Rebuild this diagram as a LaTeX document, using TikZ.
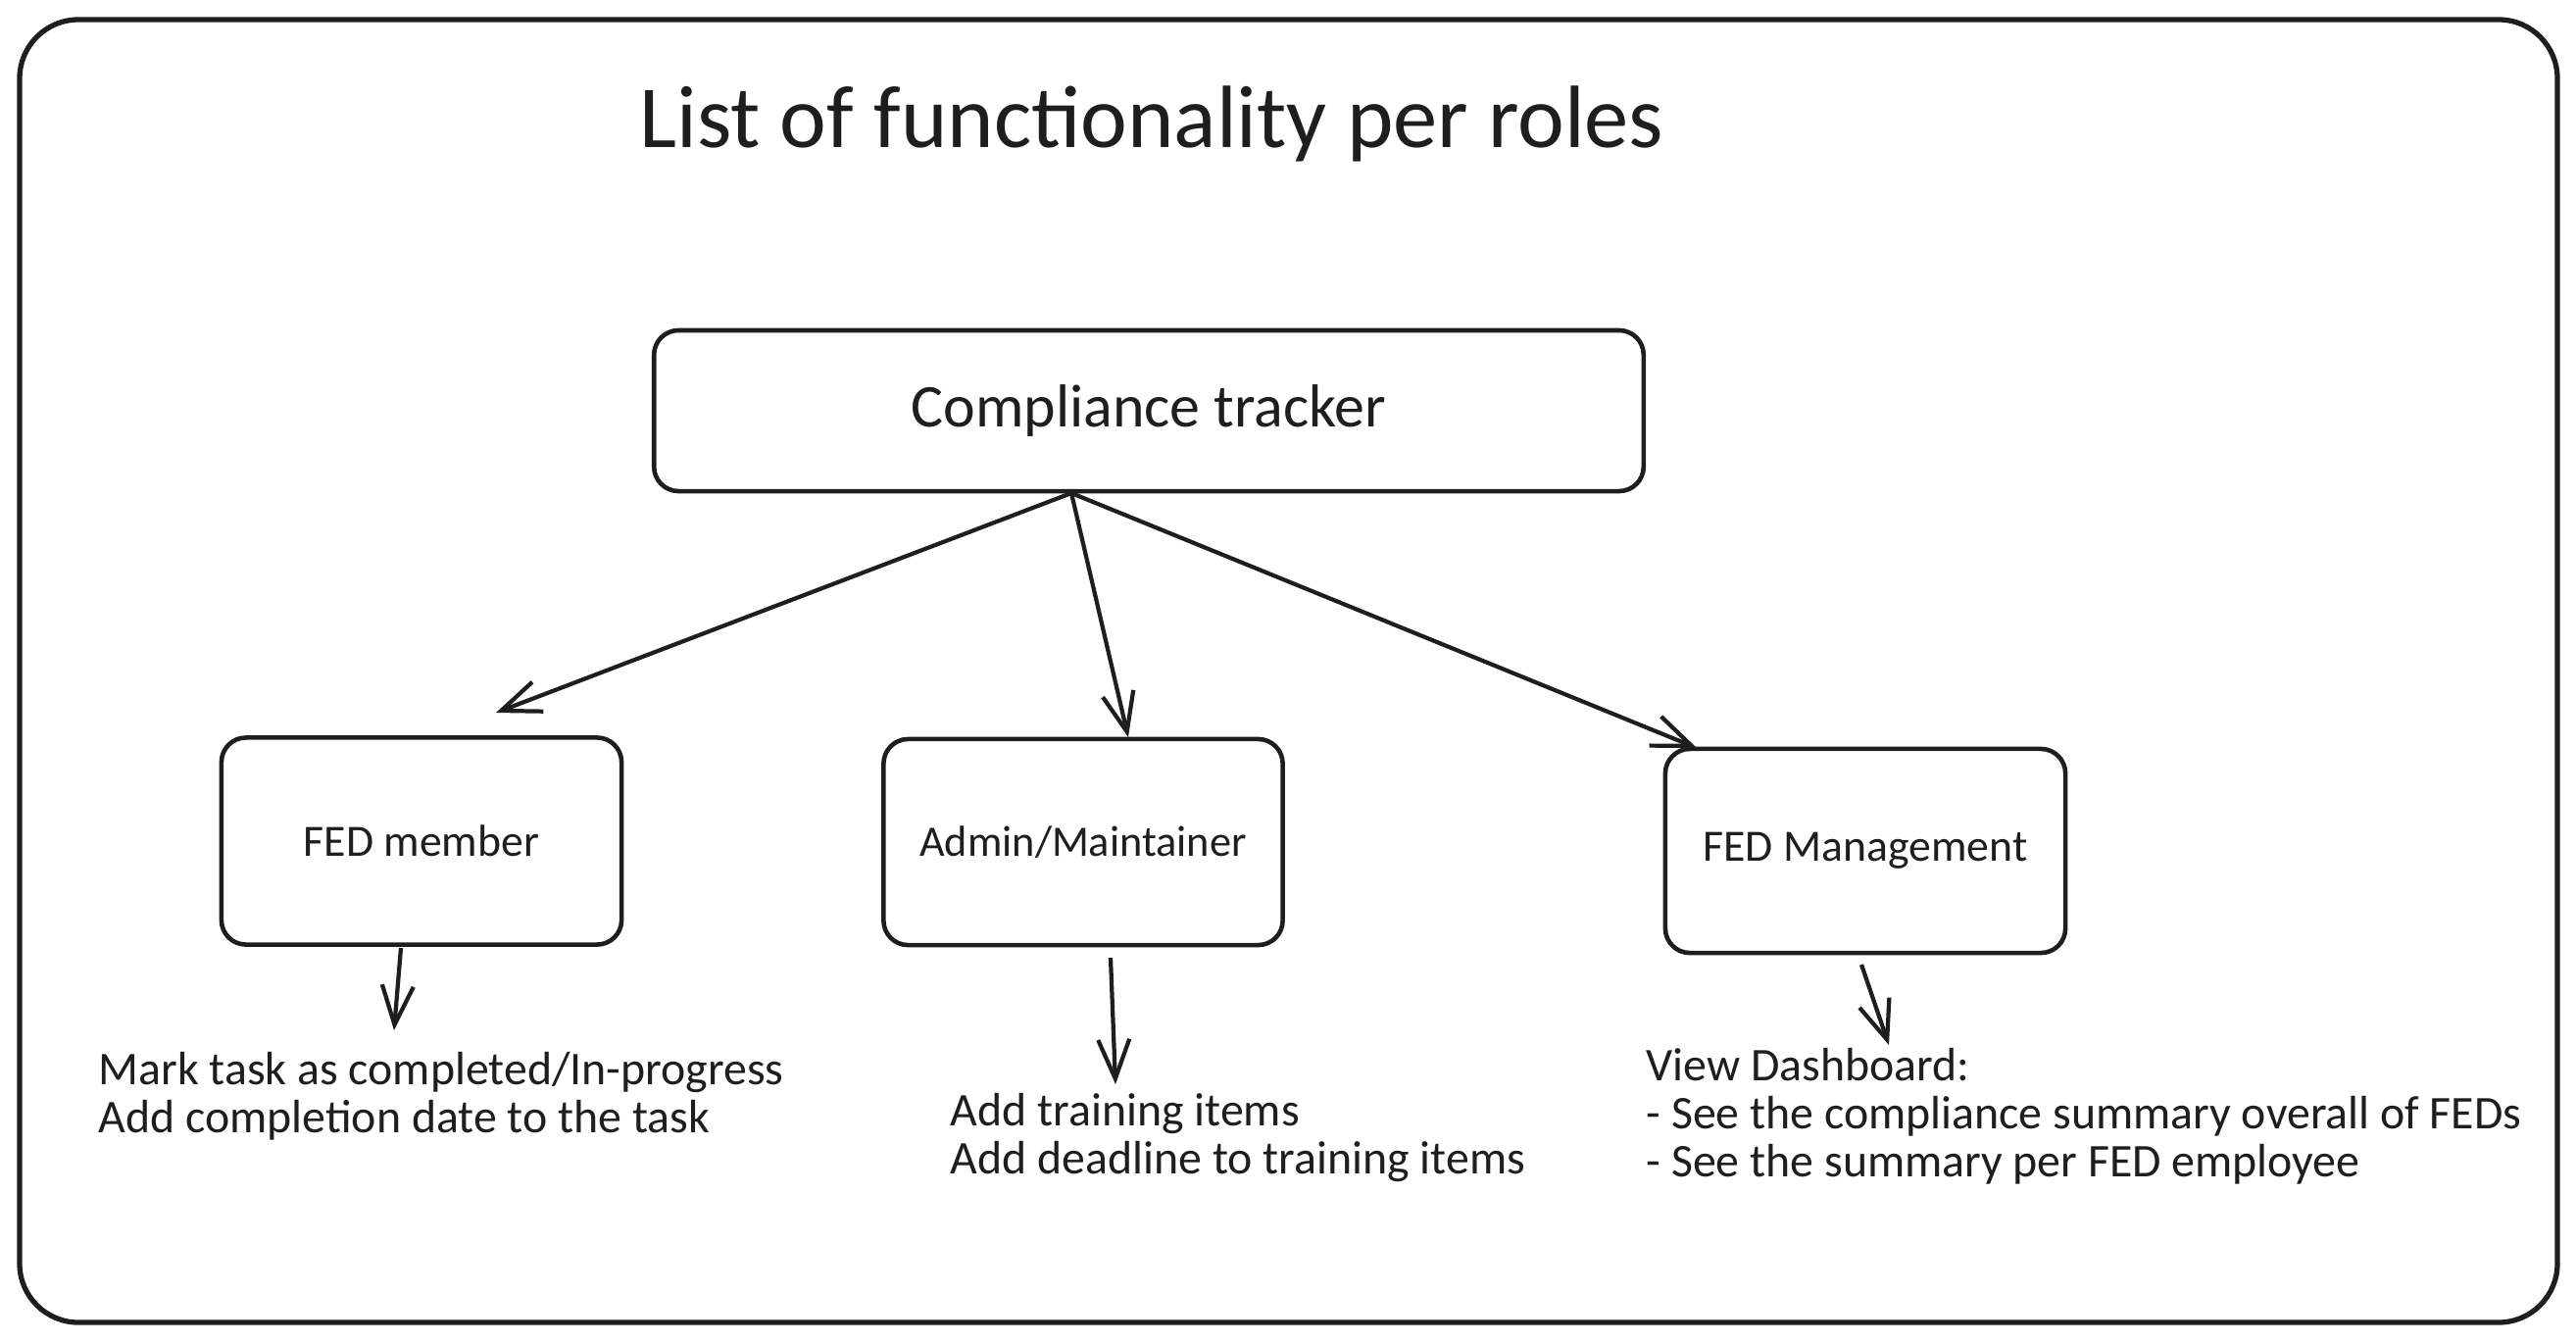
\documentclass[tikz,border=0pt]{standalone}
\usepackage{fontspec}
\setmainfont{Carlito}
\usetikzlibrary{arrows.meta}
\definecolor{ink}{HTML}{1E1E1E}
\begin{document}
\begin{tikzpicture}[x=0.01cm,y=-0.01cm,
  ink/.style={draw=ink,line width=1.3pt},
  frame/.style={draw=ink,line width=1.5pt,rounded corners=0.6cm},
  box/.style={ink,rounded corners=0.25cm,align=center,text=ink,inner sep=0pt},
  nodetxt/.style={font=\fontsize{13}{13.94}\selectfont,text=ink},
  smalltxt/.style={font=\fontsize{13.6}{13.94}\selectfont,text=ink},
  arr/.style={draw=ink,line width=1.2pt,-{Straight Barb[length=0.4cm,width=0.32cm,line width=1.2pt]}},
  lbl/.style={smalltxt,align=left,anchor=west,inner sep=0pt}]
\useasboundingbox (0,0) rectangle (2628,1369);
\draw[frame] (20,20) rectangle (2609,1349);
\node[text=ink,font=\fontsize{25.7}{28}\selectfont] (title) at (1175,126) {List of functionality per roles};
\node[box,minimum width=10.09cm,minimum height=1.64cm,font=\fontsize{17.6}{20}\selectfont] (ct) at (1172,419) {Compliance tracker};
\node[box,nodetxt,minimum width=4.08cm,minimum height=2.11cm] (fm) at (430,858) {FED member};
\node[box,nodetxt,minimum width=4.07cm,minimum height=2.10cm,font=\fontsize{12.6}{13.94}\selectfont] (am) at (1105,859) {Admin/Maintainer};
\node[box,nodetxt,minimum width=4.08cm,minimum height=2.08cm] (mg) at (1903,868) {FED Management};
\node[lbl] (t1) at (100,1118) {Mark task as completed/In-progress\\Add completion date to the task};
\node[lbl] (t2) at (969,1160) {Add training items\\Add deadline to training items};
\node[lbl] (t3) at (1679,1139) {View Dashboard:\\- See the compliance summary overall of FEDs\\- See the summary per FED employee};
\coordinate (o) at (1093,503);
\coordinate (fmin) at (506,727);
\coordinate (amin) at (1151,752);
\coordinate (mgin) at (1731,763);
\draw[arr] (o) -- (fmin);
\draw[arr] (o) -- (amin);
\draw[arr] (o) -- (mgin);
\coordinate (fmo) at (409,967);
\coordinate (t1in) at (402,1051);
\coordinate (amo) at (1133,977);
\coordinate (t2in) at (1138,1106);
\coordinate (mgo) at (1899,984);
\coordinate (t3in) at (1927,1066);
\draw[arr] (fmo) -- (t1in);
\draw[arr] (amo) -- (t2in);
\draw[arr] (mgo) -- (t3in);
\end{tikzpicture}
\end{document}
